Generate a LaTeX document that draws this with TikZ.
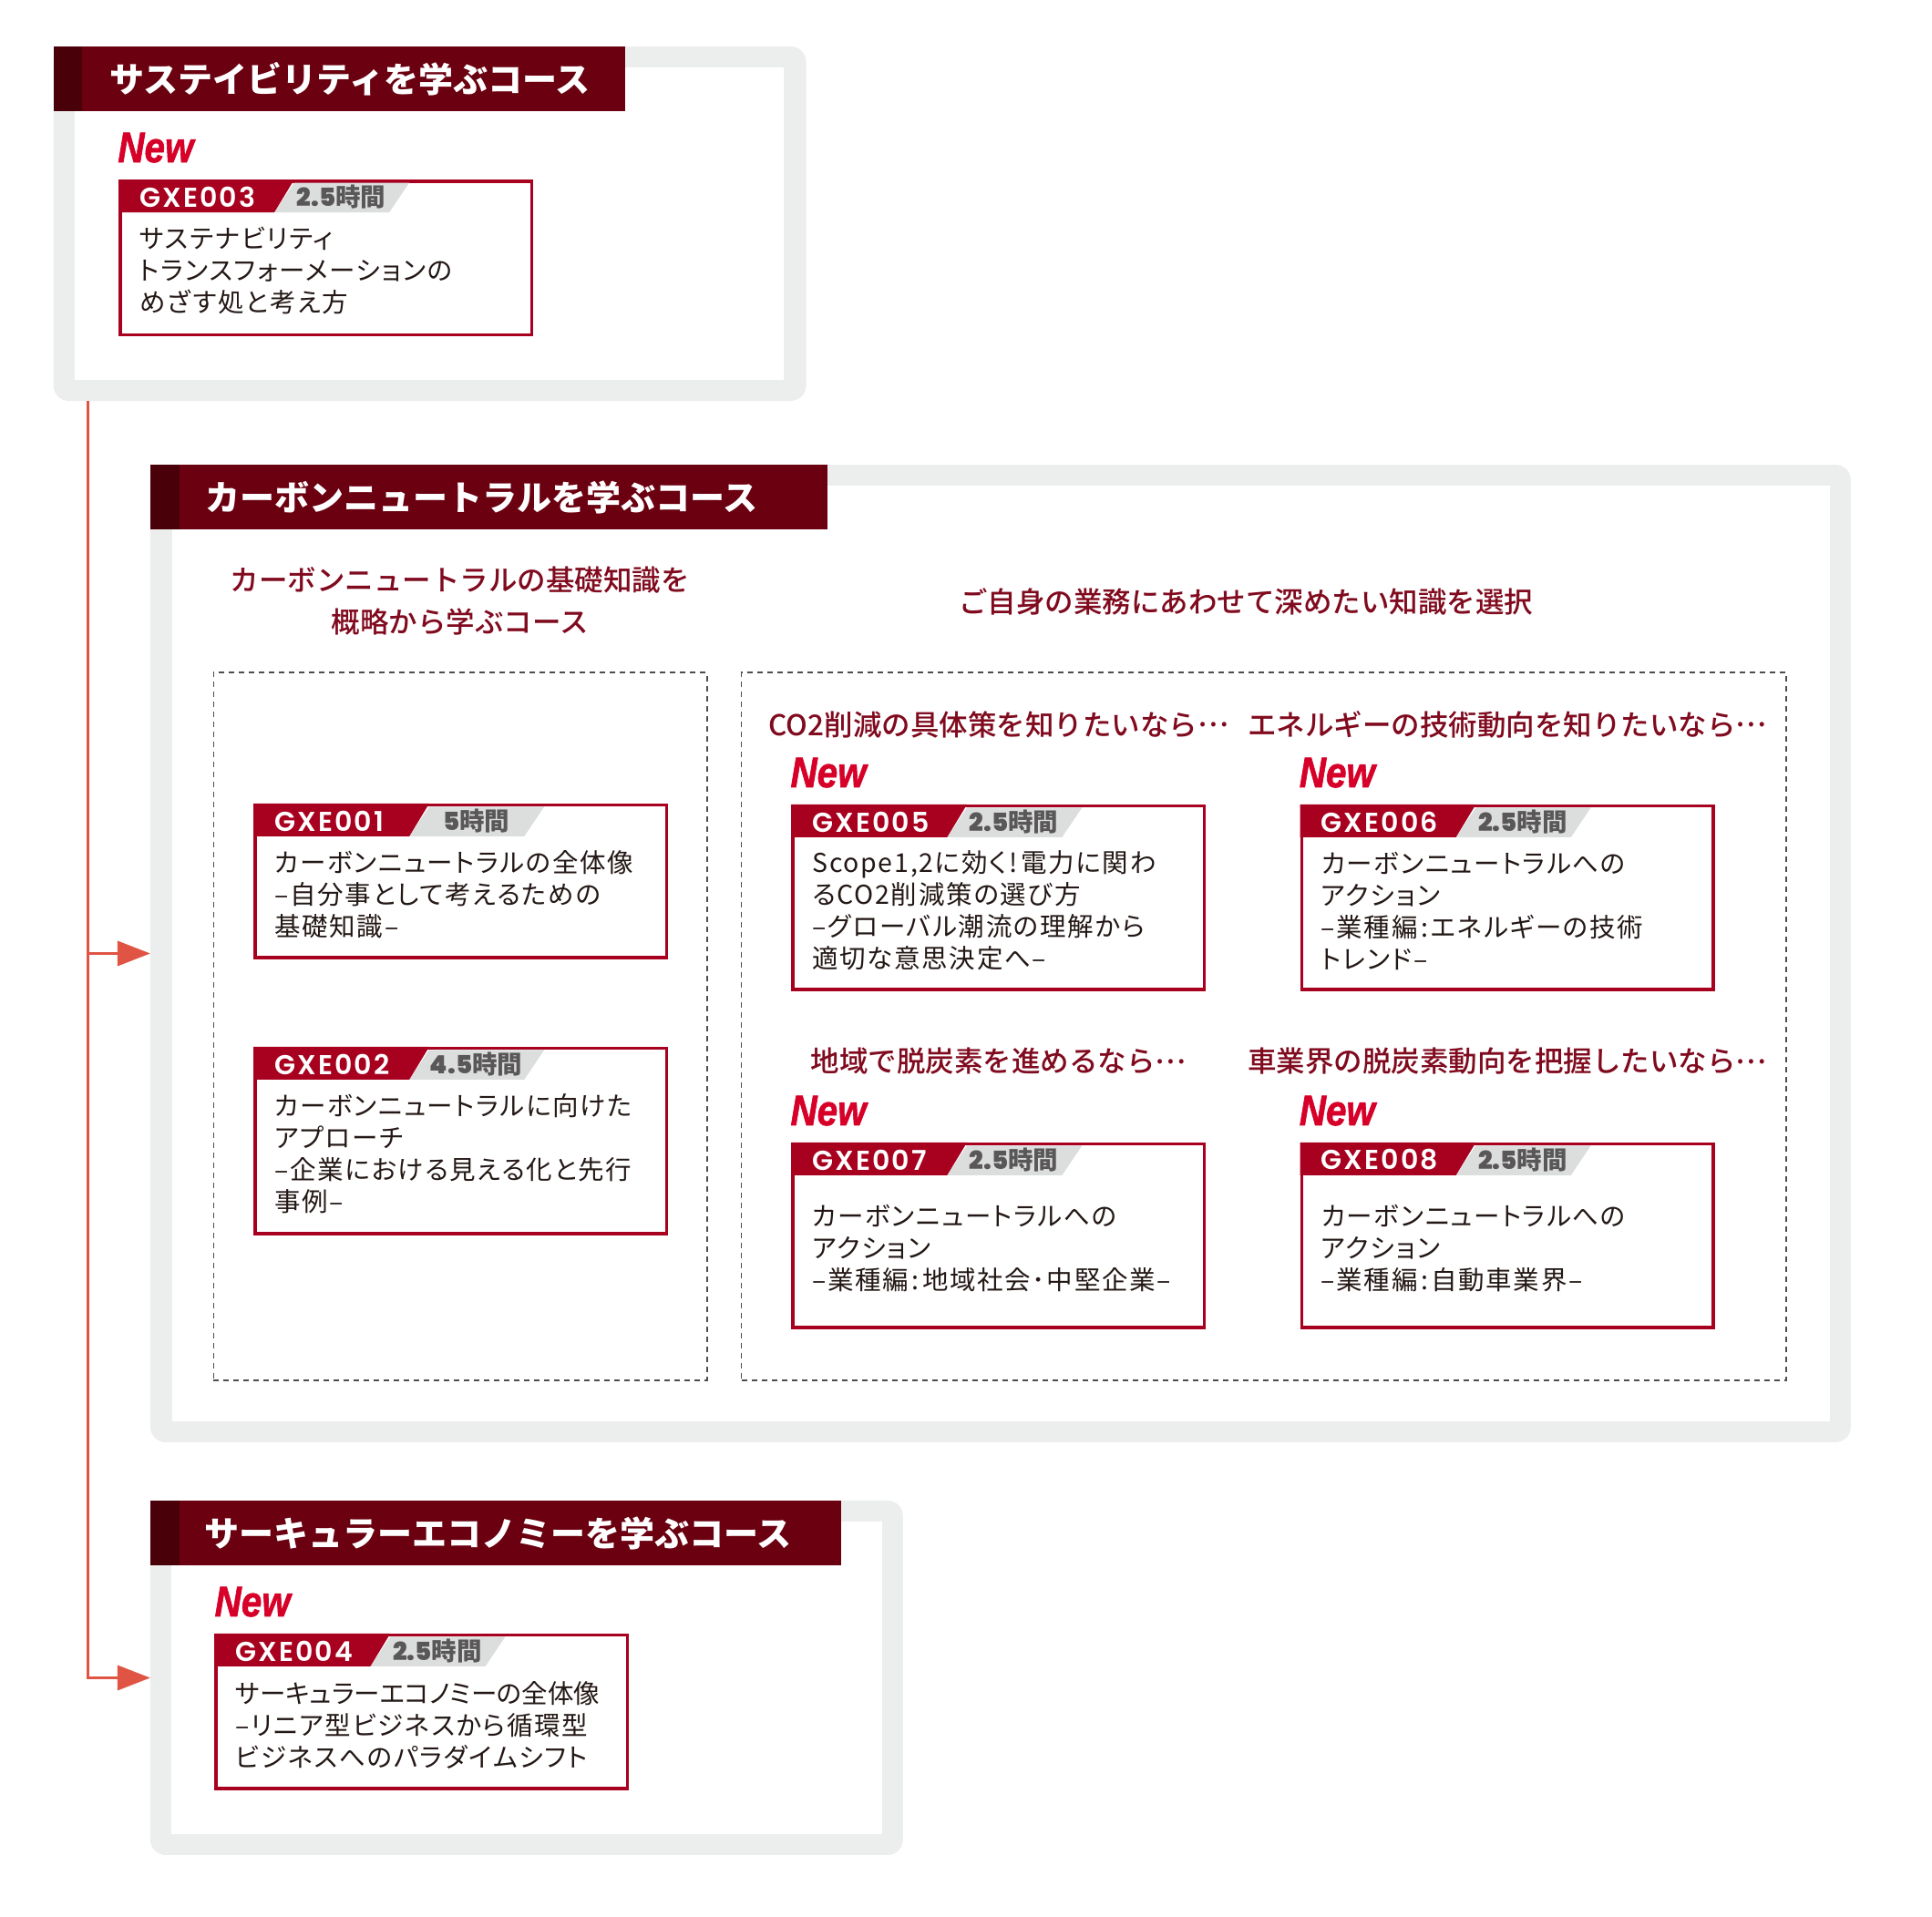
\documentclass[tikz,border=0pt]{standalone}
\usepackage{fontspec}
\setmainfont{Noto Sans CJK JP}
\IfFontExistsTF{Noto Sans CJK JP Medium}
  {\newfontfamily\medfont{Noto Sans CJK JP Medium}}
  {\newfontfamily\medfont{Noto Sans CJK JP}[FakeBold=1]}
\newfontfamily\popfont{Poppins}
\IfFontExistsTF{Poppins SemiBold}
  {\newfontfamily\popcode{Poppins SemiBold}}
  {\newcommand\popcode{\popfont\bfseries}}
\IfFontExistsTF{Poppins SemiBold}
  {\newfontfamily\pophrs{Poppins SemiBold}}
  {\newcommand\pophrs{\popfont\bfseries}}
\newfontfamily\newlabelfont{Liberation Sans}
\usetikzlibrary{arrows.meta,calc}
\definecolor{barcol}{RGB}{106,0,16}
\definecolor{bardark}{RGB}{74,0,9}
\definecolor{boxred}{RGB}{168,0,31}
\definecolor{newred}{RGB}{214,0,40}
\definecolor{subred}{RGB}{128,10,30}
\definecolor{framegray}{RGB}{236,238,238}
\definecolor{hdrgray}{RGB}{220,221,221}
\definecolor{hourgray}{RGB}{89,87,87}
\definecolor{bodycol}{RGB}{35,24,21}
\definecolor{conncol}{RGB}{224,84,68}
\definecolor{dashcol}{RGB}{77,77,77}
\newcommand\middots{\raisebox{0.3em}{…}}
\newcommand\jcolon{\hspace{0.12em}:\hspace{0.12em}}
\newcommand\jexcl{\hspace{0.1em}!\hspace{0.1em}}
\tikzset{
  frame/.style={fill=framegray, rounded corners=17pt, inner sep=0pt, outer sep=0pt, anchor=north west},
  titlebar/.style={fill=barcol, inner sep=0pt, outer sep=0pt, anchor=north west, minimum height=71pt},
  titletext/.style={text=white, anchor=west, inner sep=0pt, font=\fontsize{38}{44}\selectfont\bfseries},
  coursebox/.style={draw=boxred, line width=3.5pt, fill=white, inner sep=0pt, outer sep=0pt, anchor=north west, minimum width=451.5pt},
  codetext/.style={text=white, anchor=west, inner sep=0pt, font=\fontsize{30}{34}\popcode\addfontfeatures{LetterSpace=7}},
  hourtext/.style={text=hourgray, inner sep=0pt, font=\fontsize{27.5}{30}\selectfont\bfseries},
  bodytext/.style={text=bodycol, anchor=west, align=left, inner sep=0pt, font=\fontsize{28.5}{35}\selectfont\addfontfeatures{RawFeature=+palt,LetterSpace=6}},
  newtext/.style={text=newred, anchor=base west, inner sep=0pt, font=\fontsize{47}{50}\newlabelfont\bfseries\itshape\addfontfeatures{FakeBold=1.5}},
  subtext/.style={text=subred, inner sep=0pt, align=center, font=\fontsize{31.5}{46}\medfont},
  dashbox/.style={draw=dashcol, line width=1.5pt, dash pattern=on 6pt off 5pt, inner sep=0pt, outer sep=0pt, anchor=north west},
  conn/.style={draw=conncol, line width=3.5pt, -{Triangle[length=36pt,width=27pt]}},
}
% #1 name, #2 x, #3 y, #4 height, #5 code, #6 hours, #7 body
\newcommand\coursecard[7]{%
  \node[coursebox, minimum height=#4pt-3.5pt] (#1) at ({#2+1.75},{#3+1.75}) {};
  \fill[hdrgray] ({#2+172},{#3+36}) -- ({#2+194},{#3+3.5}) -- ({#2+321},{#3+3.5}) -- ({#2+299},{#3+36}) -- cycle;
  \fill[boxred] (#2,#3) -- ({#2+194},#3) -- ({#2+172},{#3+36}) -- (#2,{#3+36}) -- cycle;
  \node[codetext] (#1code) at ({#2+23},{#3+19}) {#5};
  \node[hourtext] (#1hrs) at ({#2+246},{#3+19}) {{\pophrs #6}時間};
  \node[bodytext] (#1body) at ({#2+23},{#3+(36+#4)/2-4}) {#7};
}
\newcommand\newtag[3]{\node[newtext] (#1) at ({#2-1},{#3-19}) {\scalebox{0.86}[1]{New}};}
\begin{document}
\begin{tikzpicture}[x=0.9935pt,y=-1pt]
\useasboundingbox[fill=white] (0,0) rectangle (2133.9,2104);

% connector trunk
\coordinate (trunktop) at (97,440);

% ---------- frame 1 ----------
\node[frame, minimum width=826pt, minimum height=389pt] (frame1) at (59,51) {};
\fill[white] (83,74) rectangle (866,417);
\node[titlebar, minimum width=627pt] (bar1) at (59,51) {};
\fill[bardark] (59,51) rectangle (91,122);
\node[titletext] (title1) at (121,86.5) {サステイビリティを学ぶコース};
\newtag{new3}{131}{197}
\coursecard{c3}{131}{197}{172}{GXE003}{2.5}{サステナビリティ\\トランスフォーメーションの\\めざす処と考え方}

% ---------- frame 2 ----------
\node[frame, minimum width=1866pt, minimum height=1073pt] (frame2) at (166,510) {};
\fill[white] (190,533) rectangle (2021,1560);
\node[titlebar, minimum width=743pt] (bar2) at (166,510) {};
\fill[bardark] (166,510) rectangle (198,581);
\node[titletext] (title2) at (227,545.5) {カーボンニュートラルを学ぶコース};

\node[subtext] (subA) at (508,660) {カーボンニュートラルの基礎知識を\\概略から学ぶコース};
\node[subtext] (subB) at (1376,660) {ご自身の業務にあわせて深めたい知識を選択};

\node[dashbox, minimum width=541.5pt, minimum height=777pt] (dashL) at (236,738) {};
\node[dashbox, minimum width=1146.5pt, minimum height=777pt] (dashR) at (819,738) {};

\coursecard{c1}{280}{882}{171}{GXE001}{5}{カーボンニュートラルの全体像\\–自分事として考えるための\\基礎知識–}
\coursecard{c2}{280}{1149}{207}{GXE002}{4.5}{カーボンニュートラルに向けた\\アプローチ\\–企業における見える化と先行\\事例–}

\node[subtext] (q5) at (1103,795) {CO2削減の具体策を知りたいなら\middots};
\node[subtext] (q6) at (1665,795) {エネルギーの技術動向を知りたいなら\middots};
\node[subtext] (q7) at (1103,1165) {地域で脱炭素を進めるなら\middots};
\node[subtext] (q8) at (1665,1165) {車業界の脱炭素動向を把握したいなら\middots};

\newtag{new5}{874}{883}
\newtag{new6}{1436}{883}
\newtag{new7}{874}{1254}
\newtag{new8}{1436}{1254}
\coursecard{c5}{874}{883}{205}{GXE005}{2.5}{Scope1,2に効く\jexcl 電力に関わ\\るCO2削減策の選び方\\–グローバル潮流の理解から\\適切な意思決定へ–}
\coursecard{c6}{1436}{883}{205}{GXE006}{2.5}{カーボンニュートラルへの\\アクション\\–業種編\jcolon エネルギーの技術\\トレンド–}
\coursecard{c7}{874}{1254}{205}{GXE007}{2.5}{カーボンニュートラルへの\\アクション\\–業種編\jcolon 地域社会･中堅企業–}
\coursecard{c8}{1436}{1254}{205}{GXE008}{2.5}{カーボンニュートラルへの\\アクション\\–業種編\jcolon 自動車業界–}

% ---------- frame 3 ----------
\node[frame, minimum width=826pt, minimum height=389pt] (frame3) at (166,1647) {};
\fill[white] (189,1670) rectangle (974,2013);
\node[titlebar, minimum width=758pt] (bar3) at (166,1647) {};
\fill[bardark] (166,1647) rectangle (198,1718);
\node[titletext] (title3) at (226,1682.5) {サーキュラーエコノミーを学ぶコース};
\newtag{new4}{238}{1793}
\coursecard{c4}{237}{1793}{172}{GXE004}{2.5}{{\addfontfeatures{LetterSpace=0}サーキュラーエコノミーの全体像}\\–リニア型ビジネスから循環型\\ビジネスへのパラダイムシフト}

% ---------- connectors ----------
\draw[conn] (trunktop) |- (frame3.west);
\draw[conn] (trunktop |- frame2.west) -- (frame2.west);
\end{tikzpicture}
\end{document}
